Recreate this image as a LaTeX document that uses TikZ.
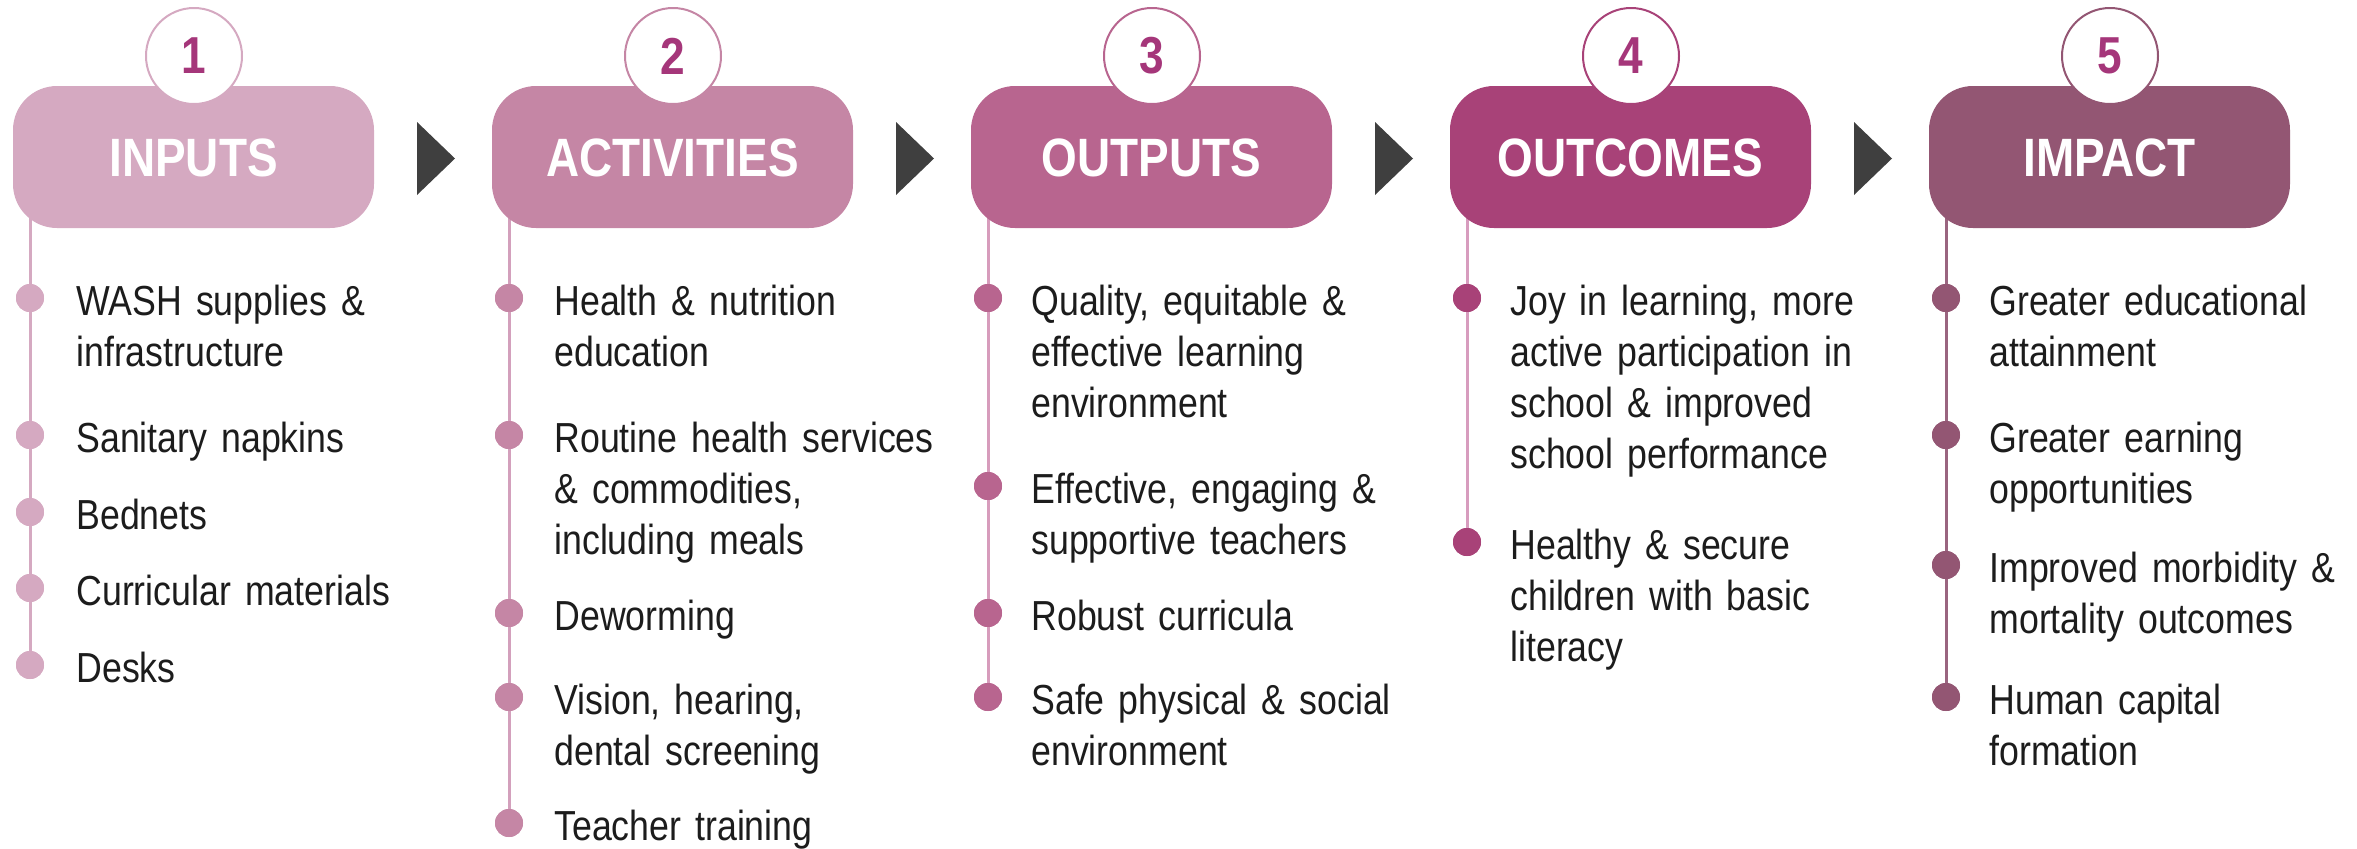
\documentclass[tikz,border=0pt]{standalone}
\usepackage{fontspec}
\setmainfont{Liberation Sans}[FakeStretch=0.85,WordSpace=0.8]
\definecolor{cA}{HTML}{D5A9C1}
\definecolor{cB}{HTML}{C586A5}
\definecolor{cC}{HTML}{B8658F}
\definecolor{cD}{HTML}{A84278}
\definecolor{cE}{HTML}{935673}
\definecolor{lA}{HTML}{D5A9C1}
\definecolor{lB}{HTML}{D3A0BC}
\definecolor{lC}{HTML}{D79CBC}
\definecolor{lD}{HTML}{D79CBE}
\definecolor{lE}{HTML}{9A6580}
\definecolor{numc}{HTML}{A5367A}
\definecolor{txt}{HTML}{1C1C1C}
\definecolor{arrc}{HTML}{3F3F3F}
\begin{document}
\begin{tikzpicture}[x=0.5pt,y=-0.5pt,
  hdr/.style={rectangle, rounded corners=22pt, fill=#1, minimum width=180.5pt,
    minimum height=71pt, inner sep=0pt, text=white, text height=19.5pt, text depth=0pt,
    font=\fontsize{27}{27}\selectfont\bfseries},
  numb/.style={circle, draw=#1, line width=1pt, fill=white, minimum size=48pt,
    inner sep=0pt, text=numc, font=\fontsize{26}{26}\selectfont\bfseries},
  bul/.style={circle, fill=#1, minimum size=14pt, inner sep=0pt},
  vl/.style={draw=#1, line width=1.5pt},
  itm/.style={anchor=base west, inner sep=0pt, text width=240pt, align=left,
    text=txt, font=\fontsize{21}{25.5}\selectfont},
  arr/.style={fill=arrc}]
\useasboundingbox (0,0) rectangle (2357,848);

% ---- line tops ----
\coordinate (v1) at (30,190);
\coordinate (v2) at (509,190);
\coordinate (v3) at (988,190);
\coordinate (v4) at (1467,190);
\coordinate (v5) at (1946,190);

% ---- bullets (positions) ----
\node[bul=cA] (b11) at (30,298) {};
\node[bul=cA] (b12) at (30,435) {};
\node[bul=cA] (b13) at (30,512) {};
\node[bul=cA] (b14) at (30,588) {};
\node[bul=cA] (b15) at (30,665) {};

\node[bul=cB] (b21) at (509,298) {};
\node[bul=cB] (b22) at (509,435) {};
\node[bul=cB] (b23) at (509,613) {};
\node[bul=cB] (b24) at (509,697) {};
\node[bul=cB] (b25) at (509,823) {};

\node[bul=cC] (b31) at (988,298) {};
\node[bul=cC] (b32) at (988,486) {};
\node[bul=cC] (b33) at (988,613) {};
\node[bul=cC] (b34) at (988,697) {};

\node[bul=cD] (b41) at (1467,298) {};
\node[bul=cD] (b42) at (1467,542) {};

\node[bul=cE] (b51) at (1946,298) {};
\node[bul=cE] (b52) at (1946,435) {};
\node[bul=cE] (b53) at (1946,565) {};
\node[bul=cE] (b54) at (1946,697) {};

\draw[vl=lA] (v1) -- (b15.center);
\draw[vl=lB] (v2) -- (b25.center);
\draw[vl=lC] (v3) -- (b34.center);
\draw[vl=lD] (v4) -- (b42.center);
\draw[vl=lE] (v5) -- (b54.center);
% bullets on top of lines
\foreach \n/\c in {b11/cA,b12/cA,b13/cA,b14/cA,b15/cA,b21/cB,b22/cB,b23/cB,b24/cB,b25/cB,b31/cC,b32/cC,b33/cC,b34/cC,b41/cD,b42/cD,b51/cE,b52/cE,b53/cE,b54/cE}
  \fill[\c] (\n) circle (7pt);

% ---- headers ----
\node[hdr=cA] (h1) at (193.5,157) {INPUTS};
\node[hdr=cB] (h2) at (672.5,157) {ACTIVITIES};
\node[hdr=cC] (h3) at (1151.5,157) {OUTPUTS};
\node[hdr=cD] (h4) at (1630.5,157) {OUTCOMES};
\node[hdr=cE] (h5) at (2109.5,157) {IMPACT};

\node[numb=cA] (n1) at (194,56) {1};
\node[numb=cB] (n2) at (673,56) {2};
\node[numb=cC] (n3) at (1152,56) {3};
\node[numb=cD] (n4) at (1631,56) {4};
\node[numb=cE] (n5) at (2110,56) {5};

% ---- arrows ----
\fill[arr] (417,122) -- (455,158.5) -- (417,195) -- cycle;
\fill[arr] (896,122) -- (934,158.5) -- (896,195) -- cycle;
\fill[arr] (1375,122) -- (1413,158.5) -- (1375,195) -- cycle;
\fill[arr] (1854,122) -- (1892,158.5) -- (1854,195) -- cycle;

% ---- texts ----
\node[itm] (t11) at (76,315) {WASH supplies \&\\infrastructure};
\node[itm] (t12) at (76,452) {Sanitary napkins};
\node[itm] (t13) at (76,529) {Bednets};
\node[itm] (t14) at (76,605) {Curricular materials};
\node[itm] (t15) at (76,682) {Desks};

\node[itm] (t21) at (554,315) {Health \& nutrition\\education};
\node[itm] (t22) at (554,452) {Routine health services\\\& commodities,\\including meals};
\node[itm] (t23) at (554,630) {Deworming};
\node[itm] (t24) at (554,714) {Vision, hearing,\\dental screening};
\node[itm] (t25) at (554,840) {Teacher training};

\node[itm] (t31) at (1031,315) {Quality, equitable \&\\effective learning\\environment};
\node[itm] (t32) at (1031,503) {Effective, engaging \&\\supportive teachers};
\node[itm] (t33) at (1031,630) {Robust curricula};
\node[itm] (t34) at (1031,714) {Safe physical \& social\\environment};

\node[itm] (t41) at (1510,315) {Joy in learning, more\\active participation in\\school \& improved\\school performance};
\node[itm] (t42) at (1510,559) {Healthy \& secure\\children with basic\\literacy};

\node[itm] (t51) at (1989,315) {Greater educational\\attainment};
\node[itm] (t52) at (1989,452) {Greater earning\\opportunities};
\node[itm] (t53) at (1989,582) {Improved morbidity \&\\mortality outcomes};
\node[itm] (t54) at (1989,714) {Human capital\\formation};
\end{tikzpicture}
\end{document}
